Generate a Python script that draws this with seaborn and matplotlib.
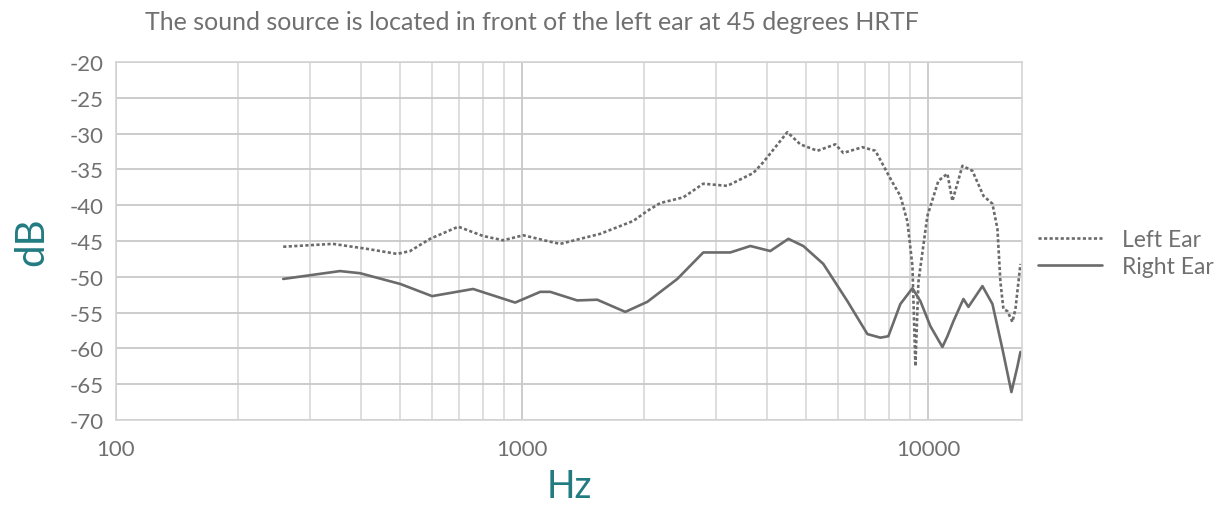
import numpy as np
import pandas as pd
import matplotlib
matplotlib.use("Agg")
import matplotlib.pyplot as plt
import seaborn as sns

# Left ear (dotted)
left_hz = [258, 342, 415, 492, 530, 593, 696, 801, 898, 1006, 1172, 1241, 1556,
           1877, 2032, 2187, 2493, 2791, 3198, 3707, 3922, 4495, 4838, 5329,
           5902, 6174, 6878, 7405, 8154, 8531, 8880, 9135, 9290, 9450, 9943,
           10583, 11139, 11459, 12127, 12834, 13664, 14377, 14790, 15041,
           15300, 15650, 16100, 16380, 16850]
left_db = [-45.8, -45.4, -46.1, -46.8, -46.4, -44.7, -43.0, -44.3, -44.9, -44.2,
           -45.1, -45.4, -44.0, -42.2, -40.8, -39.7, -38.9, -37.0, -37.3, -35.5,
           -34.0, -29.8, -31.5, -32.4, -31.5, -32.7, -31.9, -32.4, -36.8, -38.7,
           -42.3, -48.5, -62.5, -50.7, -41.5, -36.6, -35.6, -39.4, -34.5, -35.2,
           -38.7, -39.8, -43.3, -50.7, -54.5, -54.8, -56.3, -54.5, -48.2]

# Right ear (solid)
right_hz = [258, 356, 399, 501, 600, 757, 961, 1108, 1172, 1366, 1530, 1794,
            2032, 2409, 2791, 3253, 3645, 4081, 4522, 4921, 5512, 6318, 7077,
            7617, 7969, 8531, 9135, 9557, 10114, 10827, 11139, 11525, 12197,
            12547, 13583, 14377, 15217, 16010, 16570, 16850]
right_db = [-50.3, -49.2, -49.5, -51.0, -52.7, -51.7, -53.6, -52.1, -52.1, -53.3,
            -53.2, -54.9, -53.5, -50.3, -46.6, -46.6, -45.7, -46.4, -44.7, -45.7,
            -48.2, -53.4, -58.0, -58.5, -58.3, -53.8, -51.6, -53.4, -56.9, -59.8,
            -58.3, -56.2, -53.1, -54.2, -51.3, -53.8, -60.1, -66.1, -62.5, -60.5]

y_ticks = list(range(-70, -19, 5))
x_ticks = [100, 1000, 10000]

sns.set_style("white")
plt.rcParams['font.family'] = ['Lato', 'DejaVu Sans']

line_col = "#6b6b6b"
text_col = "#707070"
teal = "#227b81"
grid_col = "#d4d4d4"

fig = plt.figure(figsize=(12.27, 5.06), dpi=100)
ax = fig.add_axes([116/1227, 1-421/506, (1022-116)/1227, (421-63)/506])

left = pd.DataFrame({"Hz": left_hz, "dB": left_db})
right = pd.DataFrame({"Hz": right_hz, "dB": right_db})

sns.lineplot(data=left, x="Hz", y="dB", ax=ax, color=line_col, lw=1.9,
             linestyle=(0, (1.2, 0.9)), label="Left Ear")
sns.lineplot(data=right, x="Hz", y="dB", ax=ax, color=line_col, lw=1.9,
             label="Right Ear")

ax.set_xscale("log")
ax.set_xlim(100, 17000)
ax.set_ylim(-70, -20)
ax.set_yticks(y_ticks)
ax.set_yticklabels([str(t) for t in y_ticks])
ax.set_xticks(x_ticks)
ax.set_xticklabels([str(t) for t in x_ticks])
ax.xaxis.set_minor_formatter(matplotlib.ticker.NullFormatter())
ax.grid(True, which="major", color="#c8c8c8", lw=1.3)
ax.grid(True, which="minor", axis="x", color=grid_col, lw=1.1)
ax.set_axisbelow(True)
for s in ax.spines.values():
    s.set_color(grid_col)
    s.set_linewidth(1.2)
ax.tick_params(axis="both", which="both", length=0, labelsize=16,
               labelcolor=text_col)
ax.tick_params(axis="x", pad=14)
ax.tick_params(axis="y", pad=9)

ax.set_xlabel("Hz", color=teal, fontsize=27, labelpad=6)
ax.set_ylabel("dB", color=teal, fontsize=29, labelpad=14)

fig.text(145/1227, 1-22/506, "The sound source is located in front of the left ear at 45 degrees HRTF",
         color=text_col, fontsize=18, va="center", ha="left")

fig.legend(handles=ax.get_legend_handles_labels()[0], labels=["Left Ear", "Right Ear"],
           loc="center left", bbox_to_anchor=(1038/1227, 1-254/506), frameon=False,
           fontsize=16.5, labelcolor=text_col, handlelength=2.8,
           handletextpad=0.85, labelspacing=0.25, borderaxespad=0, borderpad=0)
ax.get_legend().remove()

fig.savefig("out.png", dpi=100)
